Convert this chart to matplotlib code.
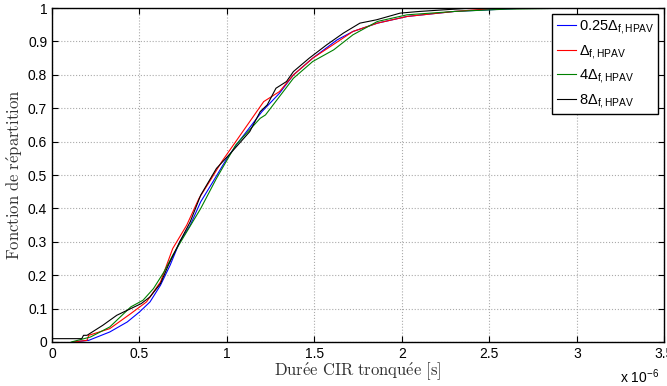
import matplotlib
matplotlib.use("Agg")
import matplotlib.pyplot as plt

# CDF knots (x in microseconds)
x_025 = [0.12, 0.21, 0.33, 0.43, 0.50, 0.56, 0.62, 0.675, 0.73, 0.79, 0.85, 0.92, 1.0, 1.06,
         1.2, 1.3, 1.38, 1.49, 1.63, 1.72, 1.86, 2.03, 2.3, 2.5, 2.7, 3.5]
F_025 = [0, 0.005, 0.03, 0.06, 0.09, 0.12, 0.17, 0.23, 0.30, 0.35, 0.42, 0.48, 0.55, 0.595,
         0.69, 0.745, 0.80, 0.85, 0.905, 0.93, 0.955, 0.975, 0.99, 0.995, 1.0, 1.0]

x_1 = [0.12, 0.2, 0.21, 0.33, 0.45, 0.54, 0.62, 0.69, 0.77, 0.84, 0.90, 0.97, 1.05, 1.21,
       1.3, 1.38, 1.49, 1.62, 1.72, 1.86, 2.03, 2.3, 2.55, 3.5]
F_1 = [0, 0.005, 0.02, 0.04, 0.085, 0.12, 0.18, 0.28, 0.35, 0.43, 0.48, 0.54, 0.60, 0.72,
       0.75, 0.80, 0.85, 0.895, 0.93, 0.955, 0.975, 0.99, 1.0, 1.0]

x_4 = [0.11, 0.22, 0.33, 0.45, 0.52, 0.58, 0.64, 0.69, 0.77, 0.85, 0.94, 1.05, 1.19, 1.22,
       1.38, 1.49, 1.61, 1.72, 1.86, 2.03, 2.3, 2.6, 3.0, 3.5]
F_4 = [0, 0.015, 0.045, 0.105, 0.125, 0.16, 0.21, 0.26, 0.33, 0.40, 0.49, 0.59, 0.67, 0.68,
       0.79, 0.84, 0.875, 0.92, 0.96, 0.98, 0.99, 0.997, 1.0, 1.0]

x_8 = [0, 0.17, 0.18, 0.20, 0.29, 0.37, 0.45, 0.51, 0.56, 0.62, 0.665, 0.73, 0.79, 0.85,
       0.94, 1.02, 1.13, 1.19, 1.23, 1.28, 1.34, 1.38, 1.47, 1.57, 1.665, 1.76, 1.855,
       1.99, 2.1, 2.39, 3.5]
F_8 = [0.01, 0.01, 0.02, 0.02, 0.05, 0.08, 0.10, 0.115, 0.135, 0.175, 0.23, 0.30, 0.36, 0.44,
       0.52, 0.565, 0.63, 0.69, 0.71, 0.76, 0.78, 0.81, 0.85, 0.89, 0.925, 0.955, 0.965,
       0.985, 0.99, 1.0, 1.0]

labels = [r"$0.25\Delta_{\mathrm{f,HPAV}}$", r"$\Delta_{\mathrm{f,HPAV}}$",
          r"$4\Delta_{\mathrm{f,HPAV}}$", r"$8\Delta_{\mathrm{f,HPAV}}$"]
xticks = [0, 0.5, 1, 1.5, 2, 2.5, 3, 3.5]
xticklabels = ["0", "0.5", "1", "1.5", "2", "2.5", "3", "3.5"]
yticks = [0, 0.1, 0.2, 0.3, 0.4, 0.5, 0.6, 0.7, 0.8, 0.9, 1]
yticklabels = ["0", "0.1", "0.2", "0.3", "0.4", "0.5", "0.6", "0.7", "0.8", "0.9", "1"]

plt.rcParams["font.family"] = ["Liberation Sans", "DejaVu Sans"]
plt.rcParams["mathtext.fontset"] = "custom"
plt.rcParams["mathtext.rm"] = "Liberation Sans"
plt.rcParams["mathtext.it"] = "Liberation Sans:italic"

fig = plt.figure(figsize=(6.67, 3.86), dpi=100)
ax = fig.add_axes([0.078, 0.114, 0.918, 0.865])

ax.plot(x_025, F_025, color="blue", lw=0.8, label=labels[0])
ax.plot(x_1, F_1, color="red", lw=0.8, label=labels[1])
ax.plot(x_4, F_4, color=(0, 0.5, 0), lw=0.8, label=labels[2])
ax.plot(x_8, F_8, color="black", lw=0.8, label=labels[3])

ax.set_xlim(0, 3.5)
ax.set_ylim(0, 1)
ax.set_xticks(xticks)
ax.set_xticklabels(xticklabels)
ax.set_yticks(yticks)
ax.set_yticklabels(yticklabels)
ax.tick_params(direction="in", labelsize=10, length=4, width=0.8, top=True, right=True)
ax.grid(True, linestyle=":", color="#aaaaaa", linewidth=0.8)
for s in ax.spines.values():
    s.set_linewidth(1.0)

ax.set_xlabel(r"$\mathrm{Dur\acute{e}e\ CIR\ tronqu\acute{e}e\ [s]}$", fontsize=12,
              math_fontfamily="cm", color="#333333", labelpad=0)
ax.set_ylabel(r"$\mathrm{Fonction\ de\ r\acute{e}partition}$", fontsize=12,
              math_fontfamily="cm", color="#333333", labelpad=2)
fig.text(0.93, 0.008, r"x 10$^{-6}$", fontsize=10)

leg = ax.legend(loc="upper right", fontsize=10.5, handlelength=1.3, handletextpad=0.2,
                borderaxespad=0.4, fancybox=False, framealpha=1, edgecolor="black",
                labelspacing=0.45, borderpad=0.3)
leg.get_frame().set_linewidth(1.0)

fig.savefig("out.png", dpi=100)
